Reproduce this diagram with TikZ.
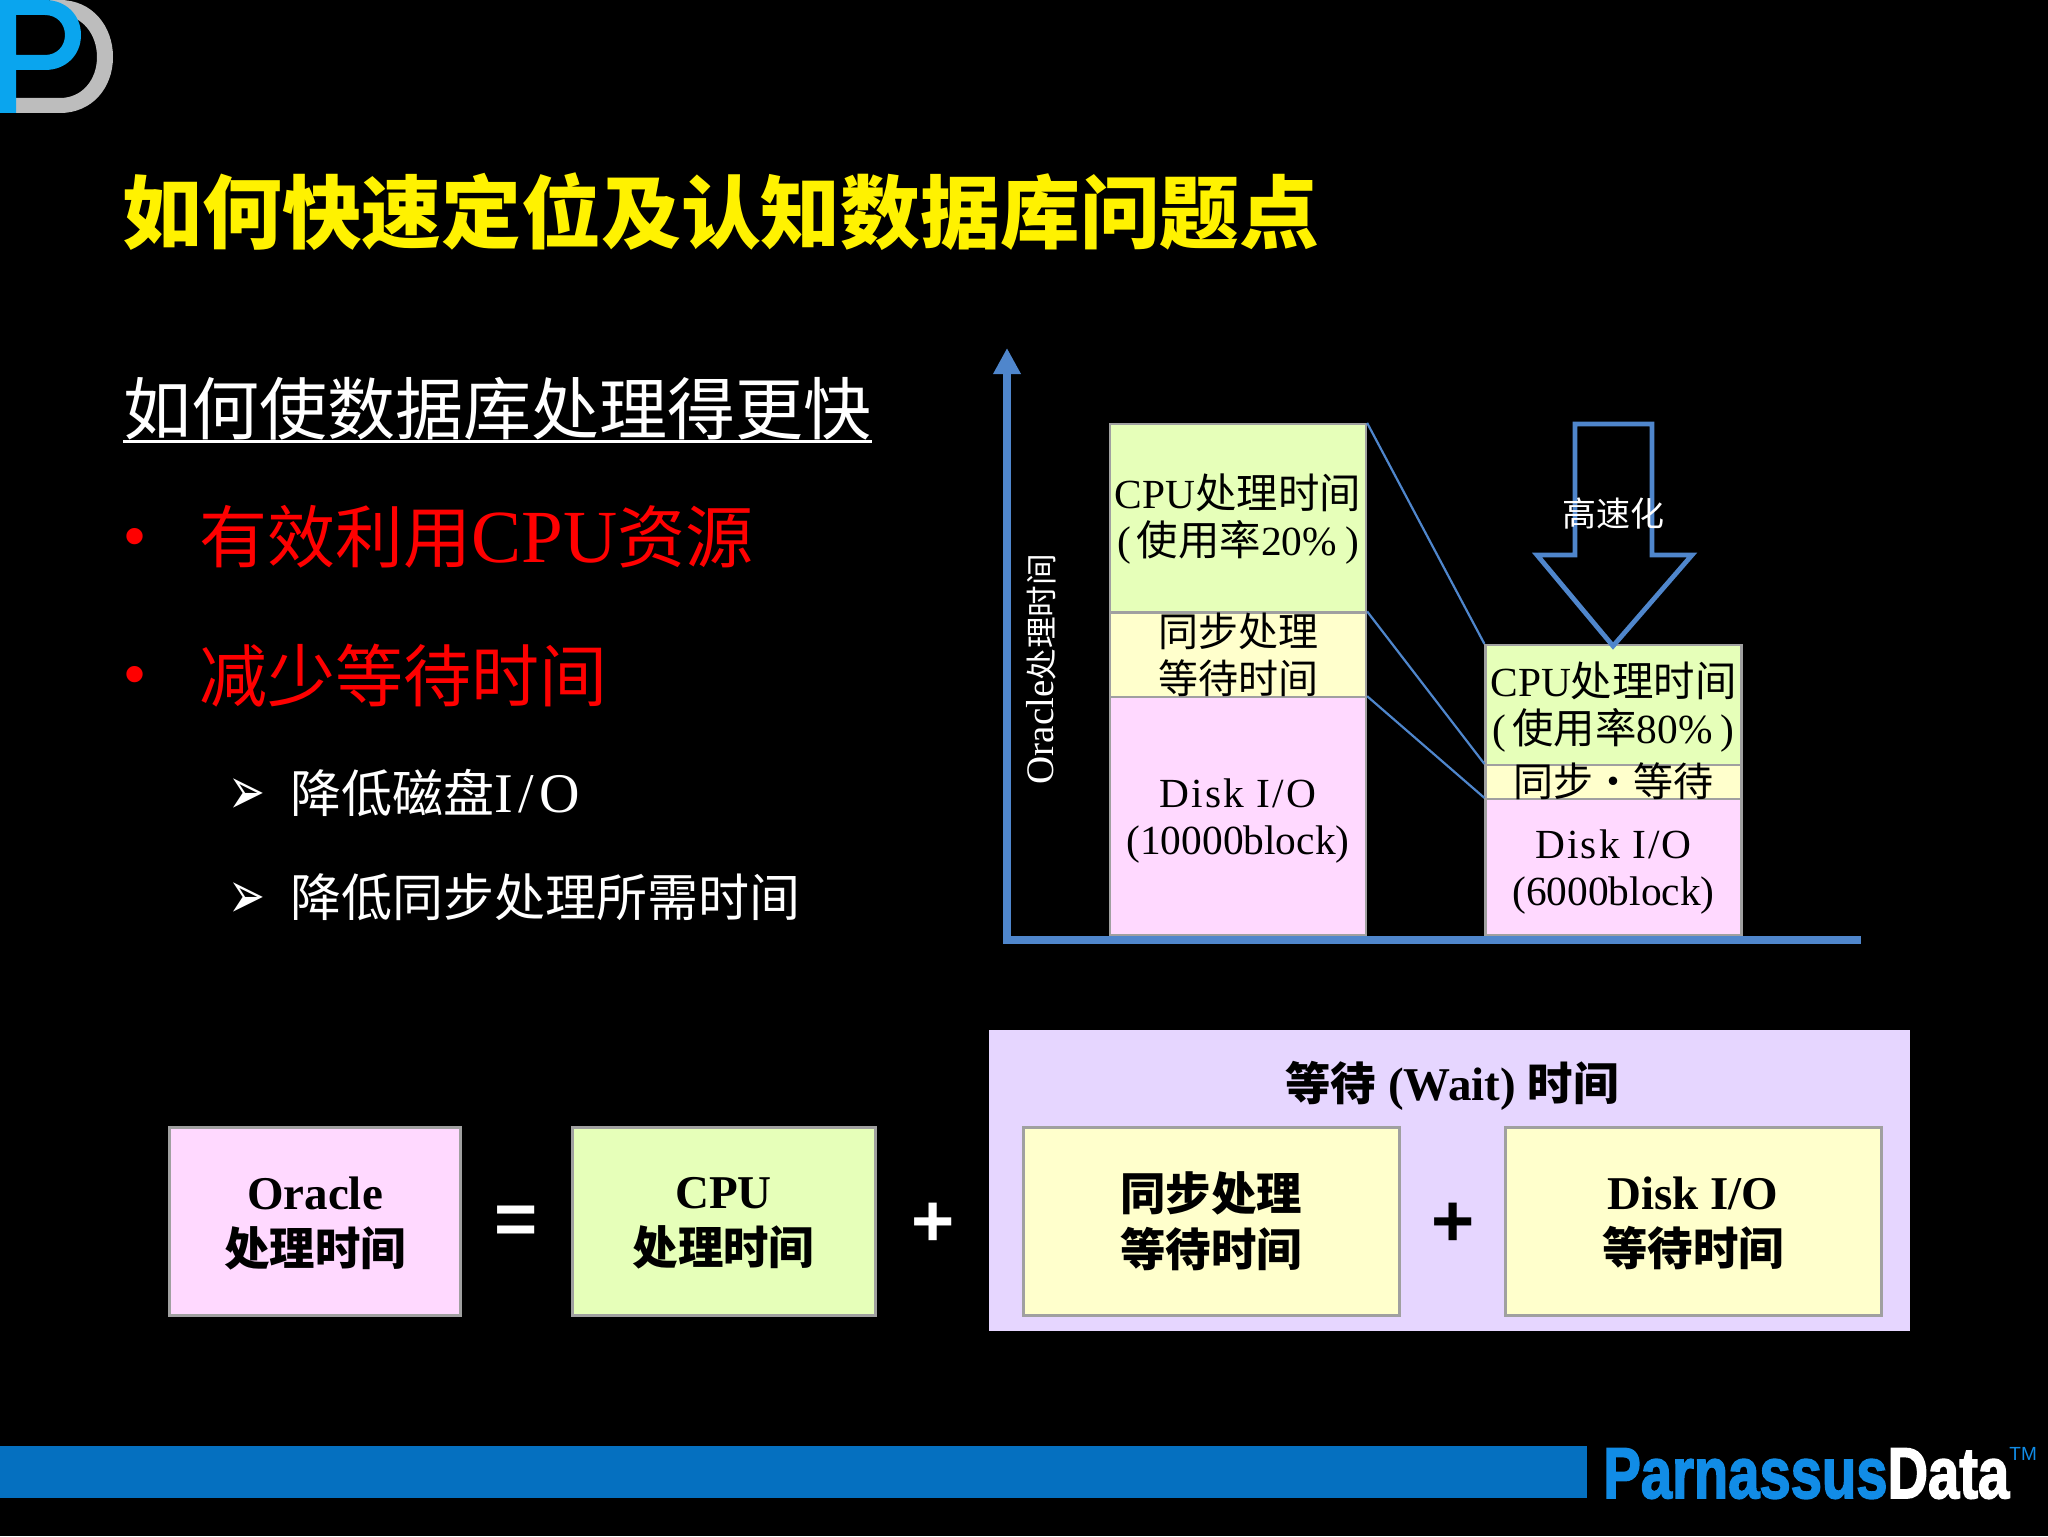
\documentclass[tikz,border=0pt]{standalone}
\usepackage{fontspec}
\setmainfont{Liberation Serif}
\newfontfamily\cj{Noto Sans CJK SC}
\newfontfamily\sym{DejaVu Sans}
\newfontfamily\lsans{Liberation Sans}
\newfontfamily\heavy[FakeBold=2.5]{Liberation Sans Bold}
\newfontfamily\spaced[LetterSpace=5]{Liberation Serif}
\newfontfamily\spacedb[LetterSpace=10]{Liberation Serif}
\usetikzlibrary{arrows.meta}
\definecolor{cgreen}{HTML}{E6FFB9}
\definecolor{cyellow}{HTML}{FFFFCC}
\definecolor{cpink}{HTML}{FFD9FF}
\definecolor{cpurple}{HTML}{E6D6FF}
\definecolor{cedge}{HTML}{A0A0A0}
\definecolor{cax}{HTML}{4F86CC}
\definecolor{cfoot}{HTML}{0570C0}
\definecolor{cbrand}{HTML}{118CE6}
\definecolor{cpb}{HTML}{0AA5EE}
\definecolor{cdg}{HTML}{BDBDBD}
\newcommand{\fs}[1]{\fontsize{#1}{#1}\selectfont}
\newcommand{\tallarrow}{\scalebox{1.05}[1.6]{➢}}
\newcommand{\bcj}[1]{{\cj\bfseries\fs{22.7}#1}}
\tikzset{
  x=0.5pt,y=-0.5pt,
  box/.style={draw=cedge,line width=1.5pt,inner sep=0pt,minimum width=#1},
  stack/.style={draw=cedge,line width=1.1pt,inner sep=0pt,minimum width=128pt},
  body/.style={text=white,anchor=base west,inner sep=0pt},
  lab/.style={text=black,align=center,inner sep=0pt,font=\fs{20.7}},
  blab/.style={text=black,align=center,inner sep=0pt,font=\fs{23.5}\bfseries},
  sign/.style={text=white,inner sep=0pt,font=\lsans\bfseries\fs{37}},
  link/.style={cax,line width=1.1pt},
}
\begin{document}
\begin{tikzpicture}
\useasboundingbox (0,0) rectangle (2048,1536);
\fill[black] (0,0) rectangle (2048,1536);
% logo
\fill[cdg] (50,0)--(60,0) .. controls (92,0) and (113,26) .. (113,57) .. controls (113,88) and (92,113) .. (60,113) -- (16,113) -- (16,98) -- (60,98) .. controls (82,98) and (97,80) .. (97,57) .. controls (97,34) and (82,15) .. (60,15) -- (50,15) -- cycle;
\fill[cpb,even odd rule] (0,0)--(45,0) .. controls (66,0) and (81,15) .. (81,35) .. controls (81,55) and (66,70) .. (45,70) -- (16,70) -- (16,113) -- (0,113) -- cycle
 (16,15)--(45,15) .. controls (57,15) and (65,24) .. (65,35) .. controls (65,46) and (57,55) .. (45,55) -- (16,55) -- cycle;
% title and text
\node[body,text=yellow,font=\cj\bfseries\fs{39.9}] (title) at (122,242) {如何快速定位及认知数据库问题点};
\node[body,font=\cj\fs{34}] (sub) at (123,434) {如何使数据库处理得更快};
\draw[white,line width=1.5pt] ([yshift=-3.5pt]sub.base west) -- ([yshift=-3.5pt]sub.base east);
\node[body,text=red,font=\lsans\fs{30}] (b1) at (124,556) {•};
\node[body,text=red,font=\fs{37.5}] (t1) at (199,562) {{\cj\fs{34}有效利用}CPU{\cj\fs{34}资源}};
\node[body,text=red,font=\lsans\fs{30}] (b2) at (124,694) {•};
\node[body,text=red,font=\cj\fs{34}] (t2) at (199,701) {减少等待时间};
\node[body,font=\sym\fs{21}] (a1) at (228,814) {\tallarrow};
\node[body,font=\fs{25.5}] (t3) at (290,812) {{\cj 降低磁盘}{\spacedb\fs{28}I/O}};
\node[body,font=\sym\fs{21}] (a2) at (228,918) {\tallarrow};
\node[body,font=\cj\fs{25.5}] (t4) at (290,916) {降低同步处理所需时间};
% chart boxes
\node[stack,fill=cgreen,minimum height=94pt] (lc) at (1238,518) {};
\node[stack,fill=cyellow,minimum height=42.5pt] (ls) at (1238,655) {};
\node[stack,fill=cpink,minimum height=118.75pt] (ld) at (1238,816) {};
\node[stack,fill=cgreen,minimum height=60pt] (rc) at (1613.5,705) {};
\node[stack,fill=cyellow,minimum height=17pt] (rs) at (1613.5,782) {};
\node[stack,fill=cpink,minimum height=68pt] (rd) at (1613.5,867) {};
\draw[link] (lc.north east) -- (rc.north west);
\draw[link] (ls.north east) -- (rs.north west);
\draw[link] (ld.north east) -- (rd.north west);
% axes
\coordinate (origin) at (1007,940);
\coordinate (ytop) at (1007,348);
\coordinate (xend) at (1861,940);
\draw[cax,line width=4pt,-{Triangle[length=13pt,width=13pt]}] (origin) -- (ytop);
\draw[cax,line width=4pt] ([xshift=-2pt]origin) -- (xend);
% block arrow
\draw[cax,line width=2.4pt,miter limit=10,fill=black] (1575,424) -- (1652,424) -- (1652,555) -- (1692,555) -- (1613,646) -- (1537,555) -- (1575,555) -- cycle;
\node[text=white,inner sep=0pt,font=\cj\fs{17}] (fast) at (1613,514) {高速化};
% chart labels
\node[text=white,inner sep=0pt,rotate=90,font=\fs{19.5}] (ylab) at (1041,669) {Oracle{\cj\fs{15.8}处理时间}};
\node[lab] (lct) at (1238,519) {CPU{\cj 处理时间}\\[3pt](\kern3pt{\cj 使用率}20\%\kern4pt)};
\node[lab] (lst) at (1238,655) {\cj\fs{20}同步处理\\[3pt]\cj\fs{20}等待时间};
\node[lab] (ldt) at (1238,821) {{\spaced Disk I/O}\\[3pt](10000block)};
\node[lab] (rct) at (1613.5,707) {CPU{\cj 处理时间}\\[3pt](\kern3pt{\cj 使用率}80\%\kern4pt)};
\node[lab,font=\cj\fs{20}] (rst) at (1613.5,781) {同步・等待};
\node[lab] (rdt) at (1613.5,872) {{\spaced Disk I/O}\\[3pt](6000block)};
% equation
\node[box=145.5pt,fill=cpink,minimum height=94pt] (eo) at (315,1221) {};
\node[box=151.5pt,fill=cgreen,minimum height=94pt] (ec) at (723.5,1221) {};
\node[fill=cpurple,inner sep=0pt,minimum width=460.5pt,minimum height=150.5pt] (ew) at (1449.5,1180.5) {};
\node[box=188pt,fill=cyellow,minimum height=94pt] (e1) at (1211,1221) {};
\node[box=188pt,fill=cyellow,minimum height=94pt] (e2) at (1693,1221) {};
\node[blab] (eot) at (315,1223) {Oracle\\[4.5pt]\bcj{处理时间}};
\node[blab] (ect) at (723.5,1223) {CPU\\[4.5pt]\bcj{处理时间}};
\node[blab] (e1t) at (1211,1221) {\bcj{同步处理}\\[4.5pt]\bcj{等待时间}};
\node[blab] (e2t) at (1693,1223) {Disk I/O\\[4.5pt]\bcj{等待时间}};
\node[blab] (ewt) at (1452,1086) {\bcj{等待} (Wait) \bcj{时间}};
\node[sign] (eq) at (516,1225) {=};
\node[sign] (p1) at (933,1225) {+};
\node[sign,text=black] (p2) at (1453,1225) {+};
% footer
\fill[cfoot] (0,1446) rectangle (1587,1498);
\node[anchor=base west,inner sep=0pt,font=\heavy\fs{36}] (brand) at (1603,1498) {\scalebox{.78}[1]{\textcolor{cbrand}{Parnassus}\textcolor{white}{Data}}};
\node[anchor=north west,inner sep=0pt,text=cbrand,font=\lsans\fs{9.5}] (tm) at (2009,1447) {TM};
\end{tikzpicture}
\end{document}
